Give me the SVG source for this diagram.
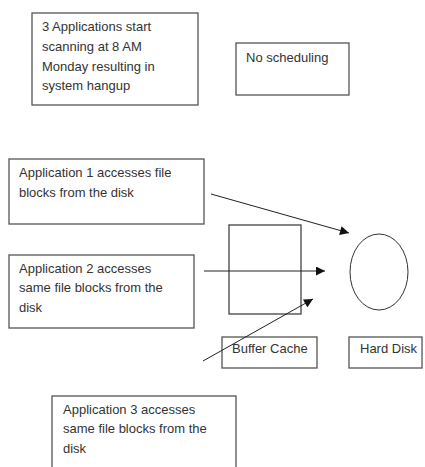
<svg xmlns="http://www.w3.org/2000/svg" width="425" height="467" viewBox="0 0 425 467">
<style>
.box{fill:#fff;stroke:#555;stroke-width:1.3}
.t{font-family:"Liberation Sans",Arial,sans-serif;font-size:13px;fill:#333}
.c{stroke:#222;stroke-width:1;fill:none}
</style>
<defs>
<marker id="ah" viewBox="0 0 10 10" refX="10" refY="5" markerWidth="10" markerHeight="9" markerUnits="userSpaceOnUse" orient="auto">
<path d="M0,0 L10,5 L0,10 z" fill="#111"/>
</marker>
</defs>
<rect width="425" height="467" fill="#fff"/>
<g id="note-hangup">
<rect class="box" x="32" y="13" width="166" height="92"/>
<text class="t" x="42" y="31">3 Applications start</text>
<text class="t" x="42" y="51">scanning at 8 AM</text>
<text class="t" x="42" y="71">Monday resulting in</text>
<text class="t" x="42" y="90">system hangup</text>
</g>
<g id="note-scheduling">
<rect class="box" x="236" y="43" width="113" height="52"/>
<text class="t" x="246" y="62">No scheduling</text>
</g>
<g id="app1">
<rect class="box" x="9" y="159" width="195" height="65"/>
<text class="t" x="19" y="177">Application 1 accesses file</text>
<text class="t" x="19" y="197">blocks from the disk</text>
</g>
<g id="app2">
<rect class="box" x="9" y="255" width="185" height="73"/>
<text class="t" x="19" y="273">Application 2 accesses</text>
<text class="t" x="19" y="292">same file blocks from the</text>
<text class="t" x="19" y="312">disk</text>
</g>
<g id="buffer-cache">
<rect x="229" y="225" width="72" height="89" fill="none" stroke="#444" stroke-width="1.3"/>
</g>
<g id="hard-disk">
<ellipse cx="379" cy="272" rx="29" ry="38" fill="none" stroke="#333" stroke-width="1"/>
</g>
<g id="label-buffer-cache">
<rect class="box" x="222" y="337" width="95" height="31"/>
<text class="t" x="232" y="353">Buffer Cache</text>
</g>
<g id="label-hard-disk">
<rect class="box" x="349" y="337" width="73" height="31"/>
<text class="t" x="360" y="353">Hard Disk</text>
</g>
<g id="app3">
<rect class="box" x="52" y="396" width="184" height="72"/>
<text class="t" x="63" y="414">Application 3 accesses</text>
<text class="t" x="63" y="433">same file blocks from the</text>
<text class="t" x="63" y="453">disk</text>
</g>
<g id="connectors">
<line class="c" x1="211" y1="194" x2="349" y2="233" marker-end="url(#ah)"/>
<line class="c" x1="204" y1="271" x2="325" y2="271" marker-end="url(#ah)"/>
<line class="c" x1="203" y1="361" x2="313" y2="299" marker-end="url(#ah)"/>
</g>
</svg>
